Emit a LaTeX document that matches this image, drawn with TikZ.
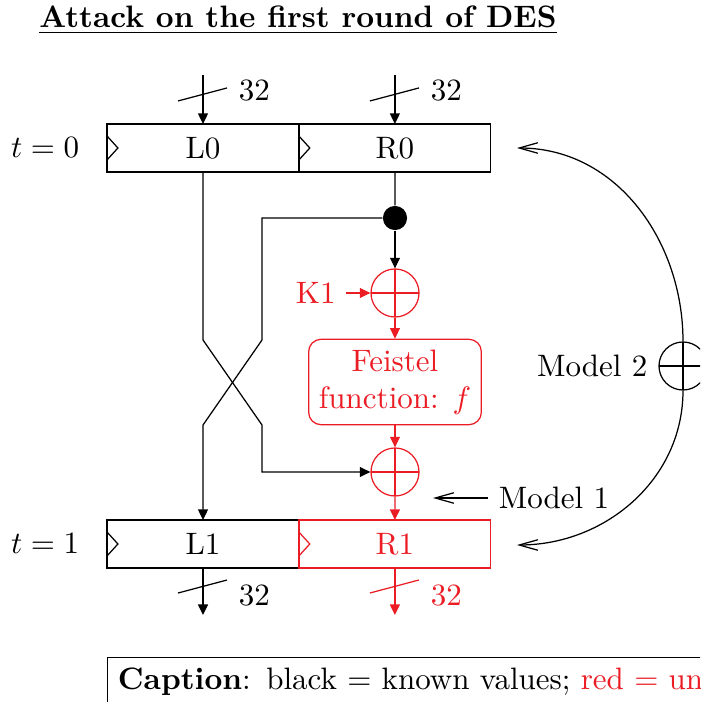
\documentclass[tikz,border=0pt]{standalone}
\usetikzlibrary{arrows.meta,positioning,calc}
\definecolor{unkred}{RGB}{235,28,36}
\tikzset{
    register/.style={
        draw, minimum width=61.9pt, minimum height=15.5pt,
        inner sep=0pt, outer sep=0pt,
        path picture={
            \draw ([yshift=3.85pt]path picture bounding box.west)
            -- ++(3.5pt,-3.85pt) -- ++(-3.5pt,-3.85pt);
        }
    },
    xorgate/.style={
        circle, draw, minimum size=15.5pt, inner sep=0pt,
        path picture={
            \draw (path picture bounding box.north) -- (path picture bounding box.south)
                  (path picture bounding box.west) -- (path picture bounding box.east);
        }
    },
    junction/.style={circle, fill, minimum size=7.8pt, inner sep=0pt},
    feistel/.style={draw, unkred, rounded corners=4pt, align=center},
    model arrow/.style={-{Straight Barb[length=6pt,width=3.4pt]}}
}
\begin{document}
\begin{tikzpicture}[x=0.3226pt, y=0.3226pt, >={Triangle[length=3.4pt,width=3.2pt]}]
\useasboundingbox (0,0) rectangle (700,702);
\clip (0,0) rectangle (700,702);

\node[anchor=base] (title) at (298,674) {\underline{\textbf{Attack on the first round of DES}}};

% registers before and after the round
\node[register] (L0) at (203,554) {L0};
\node[register, right=0pt of L0] (R0) {R0};
\node[register] (L1) at (203,158) {L1};
\node[register, right=0pt of L1, color=unkred] (R1) {R1};
\node[left=5.5pt of L0] (t0) {$t=0$};
\node[left=5.5pt of L1] (t1) {$t=1$};

% round function
\node[junction] (split) at (395,484) {};
\node[xorgate, unkred] (xor1) at (395,409) {};
\node[left=7.7pt of xor1, unkred] (K1) {K1};
\node[feistel] (f) at (395,320) {Feistel\\function: $f$};
\node[xorgate, unkred] (xor2) at (395,230) {};

% the two models
\node[anchor=west] (m1) at (488,204) {Model 1};
\coordinate (m1tip) at (433,204);
\node[xorgate] (m2) at (683,336) {};
\node[left=0pt of m2] (m2label) {Model 2};
\coordinate (m2top) at (517,554);
\coordinate (m2bot) at (517,157);

% 32-bit buses
\foreach \reg in {L0,R0} {
    \coordinate (\reg-in) at ($(\reg.north)+(0,49)$);
    \draw[->] (\reg-in) -- (\reg);
    \draw ($(\reg.north)+(-25,23)$) -- ++(49,13);
    \node[anchor=west] at ($(\reg.north)+(25,33)$) {32};
}
\foreach \reg/\col in {L1/black,R1/unkred} {
    \coordinate (\reg-out) at ($(\reg.south)+(0,-47)$);
    \draw[->, \col] (\reg) -- (\reg-out);
    \draw[\col] ($(\reg.south)+(-25,-25)$) -- ++(49,13);
    \node[anchor=west, \col] at ($(\reg.south)+(25,-27)$) {32};
}

\draw (R0) -- (split);
\draw[->] (split) -- (xor1);
\draw[->, unkred] (K1) -- (xor1);
\draw[->, unkred] (xor1) -- (f);
\draw[->, unkred] (f) -- (xor2);
\draw[->, unkred] (xor2) -- (R1);

% halves swap
\draw[->] (L0) -- (203,362) -- (262,277) |- (xor2);
\draw[->] (split) -| (262,362) -- (203,277) -- (L1);

\draw[model arrow] (m1) -- (m1tip);
\draw[model arrow] (m2.north) to[out=90, in=0] (m2top);
\draw[model arrow] (m2.south) to[out=-90, in=0] (m2bot);

\node[draw, anchor=north west, text width=200pt, align=left] (caption) at (107,45)
    {\textbf{Caption}: black $=$ known values; \textcolor{unkred}{red $=$ un}};
\end{tikzpicture}
\end{document}
